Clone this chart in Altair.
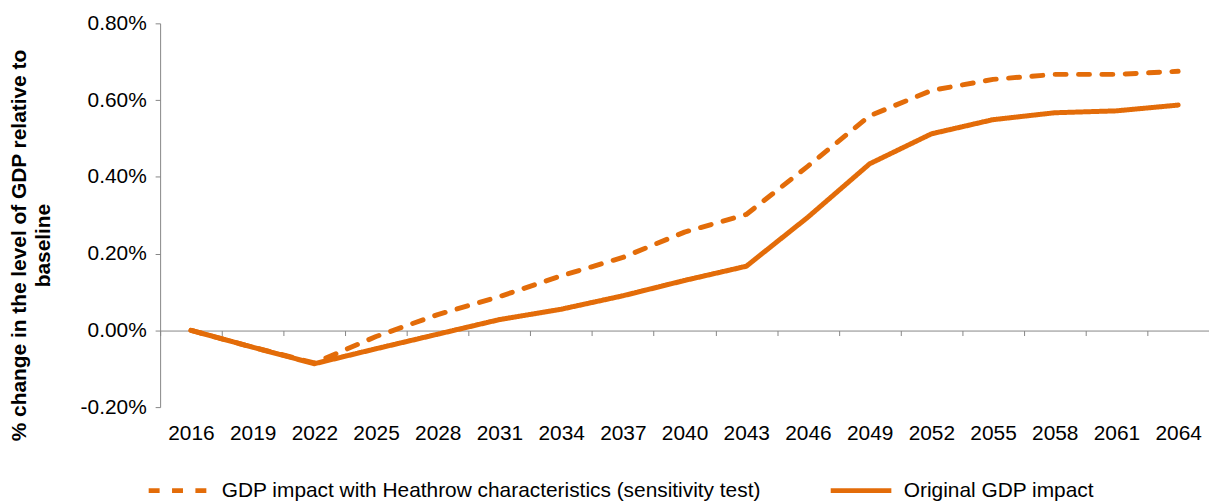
import altair as alt
import pandas as pd

years = [str(y) for y in range(2016, 2065, 3)]
heathrow = [0.0, -0.044, -0.085, -0.016, 0.041, 0.088, 0.142, 0.190, 0.256, 0.302,
            0.428, 0.559, 0.625, 0.654, 0.667, 0.667, 0.675]
original = [0.0, -0.044, -0.087, -0.048, -0.010, 0.028, 0.055, 0.090, 0.130, 0.167,
            0.295, 0.434, 0.512, 0.549, 0.567, 0.572, 0.587]
series_names = ["GDP impact with Heathrow characteristics (sensitivity test)",
                "Original GDP impact"]

rows = []
for i, y in enumerate(years):
    rows.append({"year": y, "value": heathrow[i], "series": series_names[0]})
    rows.append({"year": y, "value": original[i], "series": series_names[1]})
df = pd.DataFrame(rows)

FONT = "Liberation Sans"
ORANGE = "#E36C09"
GREY = "#868686"

chart = alt.Chart(df).mark_line(
    color=ORANGE, strokeWidth=5, strokeCap="round", strokeJoin="round"
).encode(
    x=alt.X("year:O",
            scale=alt.Scale(type="band", paddingInner=0, paddingOuter=0),
            bandPosition=0.5,
            axis=alt.Axis(title=None, tickBand="extent", offset=-77,
                          domainColor=GREY, tickColor=GREY, tickSize=5,
                          labelPadding=88, labelAngle=0, labelFontSize=21,
                          labelFont=FONT, labelColor="#000000", grid=False)),
    y=alt.Y("value:Q",
            scale=alt.Scale(domain=[-0.2, 0.8], nice=False, zero=False),
            axis=alt.Axis(values=[-0.2, 0.0, 0.2, 0.4, 0.6, 0.8],
                          labelExpr="replace(format(datum.value, '.2f'), '\u2212', '-') + '%'",
                          title=["% change in  the level of GDP relative to", "baseline"],
                          titleFont=FONT, titleFontSize=21, titleFontWeight="bold",
                          titleColor="#000000", titleLineHeight=24,
                          titleAngle=270, titleAlign="center", titleBaseline="top",
                          titleX=-152, titleY=223,
                          domainColor=GREY, tickColor=GREY, tickSize=5,
                          labelPadding=9, labelFontSize=21, labelFont=FONT,
                          labelColor="#000000", grid=False)),
    strokeDash=alt.StrokeDash("series:N",
                              scale=alt.Scale(domain=series_names, range=[[11, 12.5], [1, 0]]),
                              legend=alt.Legend(title=None, orient="none", legendX=-14, legendY=437,
                                                direction="horizontal", symbolType="stroke",
                                                symbolSize=3721, symbolStrokeWidth=5,
                                                symbolStrokeColor=ORANGE,
                                                labelFont=FONT, labelFontSize=21,
                                                labelColor="#000000", labelLimit=800,
                                                columnPadding=59, labelOffset=10)),
).properties(
    width=1055, height=386,
    autosize=alt.AutoSizeParams(type="none"),
    padding={"left": 153, "top": 14, "right": 0, "bottom": 93},
).configure_view(stroke=None)

chart.save("out.html", embed_options={"renderer": "svg", "actions": False})
